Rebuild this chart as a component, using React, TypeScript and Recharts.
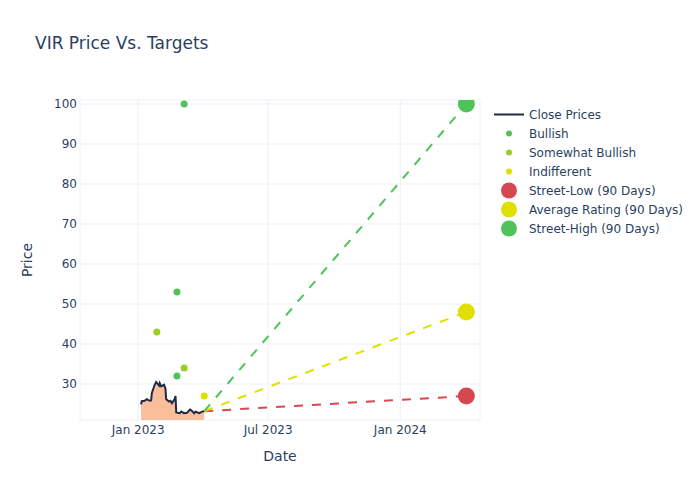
import { ComposedChart, Area, Scatter, XAxis, YAxis, CartesianGrid } from 'recharts';

// close prices (daily-ish)
const closeDates = [
  '2023-01-05', '2023-01-06', '2023-01-10', '2023-01-13', '2023-01-17', '2023-01-19',
  '2023-01-20', '2023-01-24', '2023-01-26', '2023-01-30', '2023-01-31', '2023-02-02',
  '2023-02-06', '2023-02-08', '2023-02-09', '2023-02-13', '2023-02-15', '2023-02-17',
  '2023-02-21', '2023-02-22', '2023-02-23', '2023-02-28', '2023-03-02', '2023-03-06',
  '2023-03-10', '2023-03-14', '2023-03-16', '2023-03-20', '2023-03-22', '2023-03-27',
  '2023-03-31', '2023-04-03',
];
const closePrices = [
  24.9, 25.7, 25.8, 26.2, 25.8, 25.9,
  27.7, 29.8, 30.5, 29.6, 30.2, 29.4,
  29.8, 28.9, 26.2, 25.6, 25.8, 25.2,
  26.3, 27.0, 22.9, 22.7, 23.1, 22.7,
  22.8, 23.6, 23.4, 22.7, 23.1, 22.7,
  23.1, 23.2,
];

// analyst ratings
const bullishDates = ['2023-02-24', '2023-02-24', '2023-03-06'];
const bullishValues = [53, 32, 100];
const somewhatBullishDates = ['2023-01-27', '2023-03-06'];
const somewhatBullishValues = [43, 34];
const indifferentDates = ['2023-04-03'];
const indifferentValues = [27];

// 90 day targets
const targetDate = '2024-04-02';
const streetLow = 27;
const averageRating = 48;
const streetHigh = 100;

const xTickDates = ['2023-01-01', '2023-07-01', '2024-01-01'];
const yTicks = [30, 40, 50, 60, 70, 80, 90, 100];
const monthNames = ['Jan', 'Feb', 'Mar', 'Apr', 'May', 'Jun', 'Jul', 'Aug', 'Sep', 'Oct', 'Nov', 'Dec'];

const TEXT = '#2a3f5f';
const FONT = '"DejaVu Sans", Verdana, sans-serif';
const NAVY = '#1f2a44';
const GREEN = '#4fc35a';
const YELLOWGREEN = '#9acd2a';
const YELLOW = '#e0e000';
const RED = '#d6484f';

const toTime = (s: string) => Date.parse(`${s}T00:00:00Z`);
const toPoints = (dates: string[], values: number[]) =>
  dates.map((s, i) => ({ t: toTime(s), v: values[i] }));

const closeData = toPoints(closeDates, closePrices);
const lastClose = closeData[closeData.length - 1];
const targetLine = (target: number) => [
  { t: lastClose.t, v: lastClose.v },
  { t: toTime(targetDate), v: target },
];

const dot = (r: number, color: string) => (p: any) => (
  <circle cx={p.cx} cy={p.cy} r={r} fill={color} />
);
const noDot = () => <g />;

const formatDate = (t: number) => {
  const d = new Date(t);
  return `${monthNames[d.getUTCMonth()]} ${d.getUTCFullYear()}`;
};

const legendItems = [
  { name: 'Close Prices', kind: 'line', color: NAVY },
  { name: 'Bullish', kind: 'small', color: GREEN },
  { name: 'Somewhat Bullish', kind: 'small', color: YELLOWGREEN },
  { name: 'Indifferent', kind: 'small', color: YELLOW },
  { name: 'Street-Low (90 Days)', kind: 'big', color: RED },
  { name: 'Average Rating (90 Days)', kind: 'big', color: YELLOW },
  { name: 'Street-High (90 Days)', kind: 'big', color: GREEN },
];

const dashed = (color: string) => ({ stroke: color, strokeWidth: 2, strokeDasharray: '9 9' });

export default function App() {
  return (
    <div style={{ position: 'absolute', left: 0, top: 0, width: 700, height: 500, background: '#fff', fontFamily: FONT }}>
      <div style={{ position: 'absolute', left: 35, top: 35, fontSize: 17, lineHeight: '17px', color: TEXT, whiteSpace: 'nowrap' }}>
        VIR Price Vs. Targets
      </div>
      <ComposedChart
        width={700}
        height={500}
        data={closeData}
        margin={{ top: 100, right: 220, bottom: 20, left: 10 }}
      >
        <CartesianGrid stroke="#ebf0f8" />
        <XAxis
          dataKey="t"
          type="number"
          domain={[toTime('2022-10-12'), toTime('2024-04-21')]}
          allowDataOverflow
          ticks={xTickDates.map(toTime)}
          tickFormatter={formatDate}
          axisLine={false}
          tickLine={false}
          tickSize={0}
          tickMargin={5}
          height={60}
          tick={{ fill: TEXT, fontSize: 12, fontFamily: FONT }}
          label={{ value: 'Date', position: 'insideBottom', offset: 19, fill: TEXT, fontSize: 14, fontFamily: FONT }}
        />
        <YAxis
          dataKey="v"
          type="number"
          domain={[21, 101]}
          allowDataOverflow
          ticks={yTicks}
          axisLine={false}
          tickLine={false}
          tickSize={0}
          tickMargin={3}
          width={70}
          tick={{ fill: TEXT, fontSize: 12, fontFamily: FONT }}
          label={{
            value: 'Price',
            angle: -90,
            position: 'insideLeft',
            offset: 17,
            fill: TEXT,
            fontSize: 14,
            fontFamily: FONT,
            style: { textAnchor: 'middle' },
          }}
        />
        <Area
          type="linear"
          dataKey="v"
          stroke={NAVY}
          strokeWidth={2}
          fill="#fbbe9a"
          fillOpacity={1}
          dot={false}
          activeDot={false}
          isAnimationActive={false}
        />
        <Scatter data={toPoints(bullishDates, bullishValues)} dataKey="v" shape={dot(3.5, GREEN)} isAnimationActive={false} />
        <Scatter data={toPoints(somewhatBullishDates, somewhatBullishValues)} dataKey="v" shape={dot(3.5, YELLOWGREEN)} isAnimationActive={false} />
        <Scatter data={toPoints(indifferentDates, indifferentValues)} dataKey="v" shape={dot(3.5, YELLOW)} isAnimationActive={false} />

        <Scatter data={targetLine(streetLow)} dataKey="v" line={dashed(RED)} lineType="joint" shape={noDot} isAnimationActive={false} />
        <Scatter data={targetLine(averageRating)} dataKey="v" line={dashed(YELLOW)} lineType="joint" shape={noDot} isAnimationActive={false} />
        <Scatter data={targetLine(streetHigh)} dataKey="v" line={dashed(GREEN)} lineType="joint" shape={noDot} isAnimationActive={false} />

        <Scatter data={toPoints([targetDate], [streetLow])} dataKey="v" shape={dot(8.5, RED)} isAnimationActive={false} />
        <Scatter data={toPoints([targetDate], [averageRating])} dataKey="v" shape={dot(8.5, YELLOW)} isAnimationActive={false} />
        <Scatter data={toPoints([targetDate], [streetHigh])} dataKey="v" shape={dot(8.5, GREEN)} isAnimationActive={false} />
      </ComposedChart>
      <div style={{ position: 'absolute', left: 494, top: 105 }}>
        {legendItems.map((item) => (
          <div key={item.name} style={{ display: 'flex', alignItems: 'center', height: 19 }}>
            <svg width={30} height={19}>
              {item.kind === 'line' ? (
                <line x1={0} x2={30} y1={9.5} y2={9.5} stroke={item.color} strokeWidth={2} />
              ) : (
                <circle cx={15} cy={9.5} r={item.kind === 'big' ? 8 : 3} fill={item.color} />
              )}
            </svg>
            <span style={{ marginLeft: 5, fontSize: 12, color: TEXT, whiteSpace: 'nowrap' }}>{item.name}</span>
          </div>
        ))}
      </div>
    </div>
  );
}
